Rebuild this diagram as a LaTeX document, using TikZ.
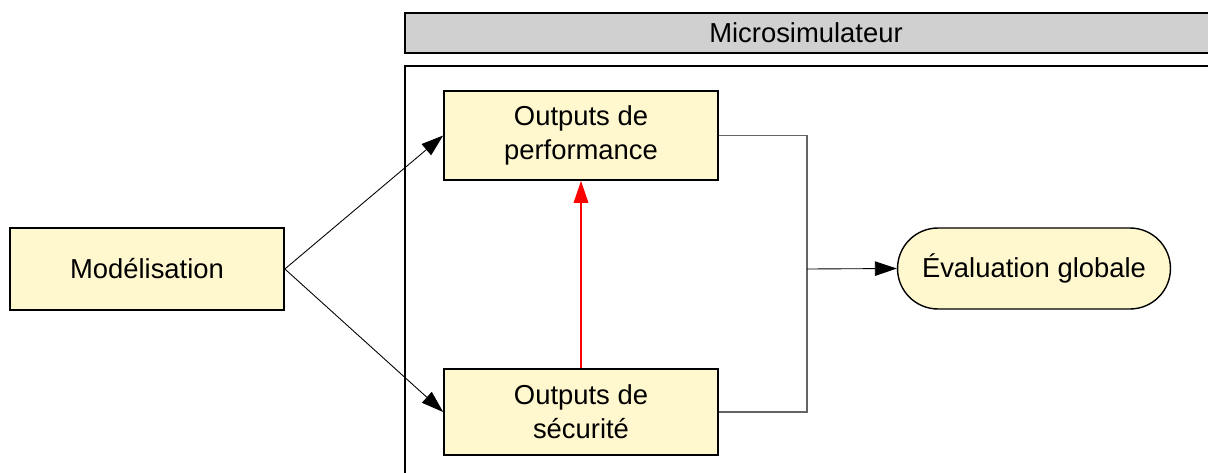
\documentclass[tikz,border=0pt]{standalone}
\usepackage{fontspec}
\setmainfont{Liberation Sans}
\usetikzlibrary{arrows.meta,shapes.misc}
\definecolor{boxfill}{RGB}{255,248,206}
\definecolor{headgray}{RGB}{208,208,208}
\definecolor{linkgray}{RGB}{100,100,100}
\begin{document}
\begin{tikzpicture}[
  x=0.02cm, y=-0.02cm,
  every node/.style={font=\fontsize{15.6}{19.5}\selectfont, align=center},
  stepbox/.style={draw, line width=1pt, fill=boxfill, minimum width=5.48cm, inner sep=0pt},
  endbox/.style={draw, line width=0.8pt, fill=boxfill, rounded rectangle, minimum width=5.46cm, minimum height=1.62cm, inner sep=0pt},
  link/.style={draw, line width=0.5pt, -{Triangle[length=4.4mm,width=2.9mm]}},
  mergeline/.style={draw=linkgray, line width=0.6pt}
]
\useasboundingbox (0,0) rectangle (1208,473);
% simulator frame
\draw[line width=1pt, fill=headgray] (405,13) rectangle (1220,53);
\node (head) at (806,33) {Microsimulateur};
\draw[line width=1pt] (1220,66) -- (405,66) -- (405,480);
% nodes
\node[stepbox, minimum height=1.64cm] (model) at (147,269) {Modélisation};
\node[stepbox, minimum height=1.78cm] (perf) at (581,135.5) {Outputs de\\performance};
\node[stepbox, minimum height=1.72cm] (secu) at (581,412) {Outputs de\\sécurité};
\node[endbox] (eval) at (1034,268.5) {Évaluation globale};
\coordinate (merge) at (807,269);
% connectors
\path[link] (model.east) -- (perf.west);
\path[link] (model.east) -- (secu.west);
\path[link, draw=red, line width=1pt] (secu.north) -- (perf.south);
\path[mergeline] (perf.east) -| (merge);
\path[mergeline] (secu.east) -| (merge);
\path[link] (merge) -- (eval.west);
\end{tikzpicture}
\end{document}
